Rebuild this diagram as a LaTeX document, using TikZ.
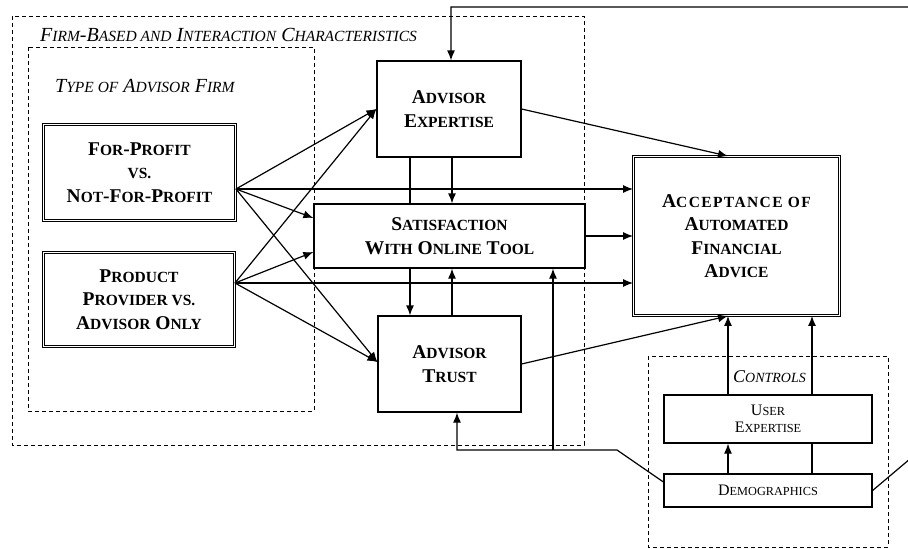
\documentclass[tikz,border=0pt]{standalone}
\usepackage{fontspec}
\setmainfont{Liberation Serif}
\usetikzlibrary{arrows.meta,calc}
% hand-made small capitals: the lower-case part is set in upper case at \lowsz
\newlength\lowsz
\newcommand\lw[1]{{\fontsize{\lowsz}{\lowsz}\selectfont #1}}

\begin{document}
\begin{tikzpicture}[x=1pt,y=-1pt,
  >={Latex[length=10pt,width=8pt]},
  conn/.style={line width=1.2pt},
  arr/.style={conn,->},
  grp/.style={line width=0.9pt, dash pattern=on 4pt off 3pt},
  boxtext/.style={font=\bfseries\fontsize{19.5}{23.5}\selectfont\setlength\lowsz{15.5pt}, align=center},
  plainbox/.style={draw, line width=1.2pt, inner sep=0pt, boxtext},
  dblbox/.style={draw, double, double distance=1.6pt, line width=0.9pt, inner sep=0pt, boxtext},
  ctrlbox/.style={draw, line width=1.2pt, inner sep=0pt, align=center,
    font=\fontsize{16}{17.5}\selectfont\setlength\lowsz{12.3pt}},
  grplabel/.style={font=\itshape\fontsize{20}{22}\selectfont\setlength\lowsz{15.5pt},
    inner sep=0pt, anchor=base west},
]
\useasboundingbox (0,0) rectangle (908,549);

% dashed groupings
\draw[grp] (12,16) rectangle (584,445);
\draw[grp] (28,47) rectangle (314,411);
\draw[grp] (648,356) rectangle (888,547);

\node[grplabel] (firmlbl) at (40,41) {F\lw{IRM}-B\lw{ASED AND} I\lw{NTERACTION} C\lw{HARACTERISTICS}};
\node[grplabel] (typelbl) at (55,92) {T\lw{YPE OF} A\lw{DVISOR} F\lw{IRM}};
\node[grplabel, font=\itshape\fontsize{18}{20}\selectfont\setlength\lowsz{14pt}] (ctrllbl) at (733,382) {C\lw{ONTROLS}};

% constructs
\node[dblbox, minimum width=192pt, minimum height=96pt] (fp) at (139.5,172.5)
  {F\lw{OR}-P\lw{ROFIT}\\\lw{VS.}\\N\lw{OT}-F\lw{OR}-P\lw{ROFIT}};
\node[dblbox, minimum width=191pt, minimum height=94pt] (pp) at (139,299.5)
  {P\lw{RODUCT}\\P\lw{ROVIDER VS.}\\A\lw{DVISOR} O\lw{NLY}};
\node[plainbox, minimum width=144pt, minimum height=96pt] (exp) at (449,109)
  {A\lw{DVISOR}\\E\lw{XPERTISE}};
\node[plainbox, minimum width=271pt, minimum height=64pt] (sat) at (449.5,236)
  {S\lw{ATISFACTION}\\W\lw{ITH} O\lw{NLINE} T\lw{OOL}};
\node[plainbox, minimum width=143pt, minimum height=96pt] (trust) at (449.5,364)
  {A\lw{DVISOR}\\T\lw{RUST}};
\node[dblbox, minimum width=206pt, minimum height=159pt] (acc) at (736.5,236)
  {\addfontfeature{LetterSpace=9}A\lw{CCEPTANCE OF}\\A\lw{UTOMATED}\\F\lw{INANCIAL}\\A\lw{DVICE}};
\node[ctrlbox, minimum width=208pt, minimum height=48pt] (ue) at (768,419)
  {U\lw{SER}\\E\lw{XPERTISE}};
\node[ctrlbox, minimum width=208pt, minimum height=33pt] (dem) at (768,490.5)
  {D\lw{EMOGRAPHICS}};

% paths out of the firm type
\coordinate (fpo) at (fp.east |- 0,189);
\coordinate (ppo) at (pp.east |- 0,283);
\draw[arr] (fpo) -- (exp.west);
\draw[arr] (fpo) -- (sat.west |- 0,218);
\draw[arr] (fpo) -- (trust.west |- 0,362);
\draw[arr] (fpo) -- (acc.west |- fpo);
\draw[arr] (ppo) -- (exp.west);
\draw[arr] (ppo) -- (sat.west |- 0,252);
\draw[arr] (ppo) -- (trust.west |- 0,362);
\draw[arr] (ppo) -- (acc.west |- ppo);

% interaction characteristics
\draw[arr] (exp.east) -- (acc.north -| 728,0);
\draw[arr] (trust.east) -- (acc.south -| 728,0);
\draw[arr] (sat.east) -- (acc.west |- sat.east);
\draw[arr] (exp.south -| 452,0) -- (sat.north -| 452,0);
\draw[conn] (exp.south -| 410,0) -- (sat.north -| 410,0);
\draw[arr] (sat.south -| 410,0) -- (trust.north -| 410,0);
\draw[arr] (trust.north -| 452,0) -- (sat.south -| 452,0);

% controls
\draw[arr] (ue.north -| 728,0) -- (acc.south -| 728,0);
\draw[arr] (ue.north -| 812,0) -- (acc.south -| 812,0);
\draw[arr] (dem.north -| 728,0) -- (ue.south -| 728,0);
\draw[conn] (dem.north -| 812,0) -- (ue.south -| 812,0);

\coordinate (bend) at (617,450);
\coordinate (turn) at (457,450);
\draw[arr] (dem.west |- 0,482) -- (bend) -- (turn) -- (trust.south -| turn);
\draw[arr] (bend -| 553,0) -- (sat.south -| 553,0);

% feedback loop round the right edge back to expertise
\coordinate (fbr) at (930,442);
\coordinate (fbt) at (930,7);
\coordinate (fbl) at (451,7);
\draw[arr] (dem.east) -- (fbr) -- (fbt) -- (fbl) -- (exp.north -| fbl);
\end{tikzpicture}
\end{document}
